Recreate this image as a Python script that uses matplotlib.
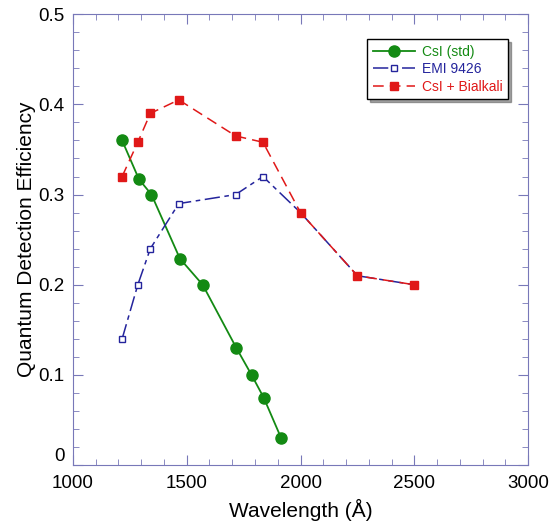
import matplotlib
matplotlib.use("Agg")
import matplotlib.pyplot as plt
from matplotlib.ticker import MultipleLocator

plt.rcParams["font.family"] = ["Liberation Sans", "DejaVu Sans"]

# Quantum detection efficiency curves
csi_wl = [1216, 1290, 1345, 1470, 1570, 1718, 1785, 1838, 1915]
csi_qe = [0.36, 0.317, 0.30, 0.229, 0.20, 0.13, 0.10, 0.075, 0.03]

emi_wl = [1216, 1285, 1340, 1465, 1715, 1835, 2000, 2250, 2500]
emi_qe = [0.14, 0.20, 0.24, 0.29, 0.30, 0.32, 0.28, 0.21, 0.20]

bia_wl = [1216, 1285, 1340, 1465, 1715, 1835, 2000, 2250, 2500]
bia_qe = [0.32, 0.358, 0.39, 0.405, 0.365, 0.358, 0.28, 0.21, 0.20]

y_ticks = [0, 0.1, 0.2, 0.3, 0.4, 0.5]
y_tick_labels = ["0", "0.1", "0.2", "0.3", "0.4", "0.5"]

GREEN = "#138a13"
BLUE = "#24249c"
RED = "#e01818"
FRAME = "#7878b8"

fig = plt.figure(figsize=(5.57, 5.25), dpi=100)
ax = fig.add_axes([0.131, 0.114, 0.817, 0.859])

ax.plot(csi_wl, csi_qe, color=GREEN, lw=1.3, marker="o", ms=8,
        label="CsI (std)")
ax.plot(emi_wl, emi_qe, color=BLUE, lw=1.1, dashes=(10, 3, 3, 3),
        marker="s", ms=5, mfc="white", mec=BLUE, label="EMI 9426")
ax.plot(bia_wl, bia_qe, color=RED, lw=1.1, dashes=(7, 4),
        marker="s", ms=6, mfc=RED, mec=RED, label="CsI + Bialkali")

ax.set_xlim(1000, 3000)
ax.set_ylim(0, 0.5)
ax.xaxis.set_major_locator(MultipleLocator(500))
ax.xaxis.set_minor_locator(MultipleLocator(100))
ax.set_yticks(y_ticks)
ax.set_yticklabels(y_tick_labels)
ax.yaxis.set_minor_locator(MultipleLocator(0.02))
ax.tick_params(which="both", direction="in", top=True, right=True,
               color=FRAME, labelsize=13.5)
ax.tick_params(which="major", length=7)
ax.tick_params(which="minor", length=4)
ax.tick_params(axis="y", pad=6)
ax.tick_params(axis="x", pad=7)
for s in ax.spines.values():
    s.set_color(FRAME)

# lift the "0" so it sits above the "1000"
ax.yaxis.get_major_ticks()[0].label1.set_verticalalignment("bottom")

ax.set_xlabel("Wavelength (Å)", fontsize=15, labelpad=5)
ax.set_ylabel("Quantum Detection Efficiency", fontsize=15, labelpad=2)

leg = ax.legend(loc="upper right", bbox_to_anchor=(0.971, 0.96),
                fancybox=False, shadow=True, edgecolor="black",
                labelcolor="linecolor", fontsize=10, handlelength=3,
                borderpad=0.4, labelspacing=0.25, handletextpad=0.5)
leg.get_frame().set_linewidth(1.0)

fig.savefig("out.png", dpi=100)
